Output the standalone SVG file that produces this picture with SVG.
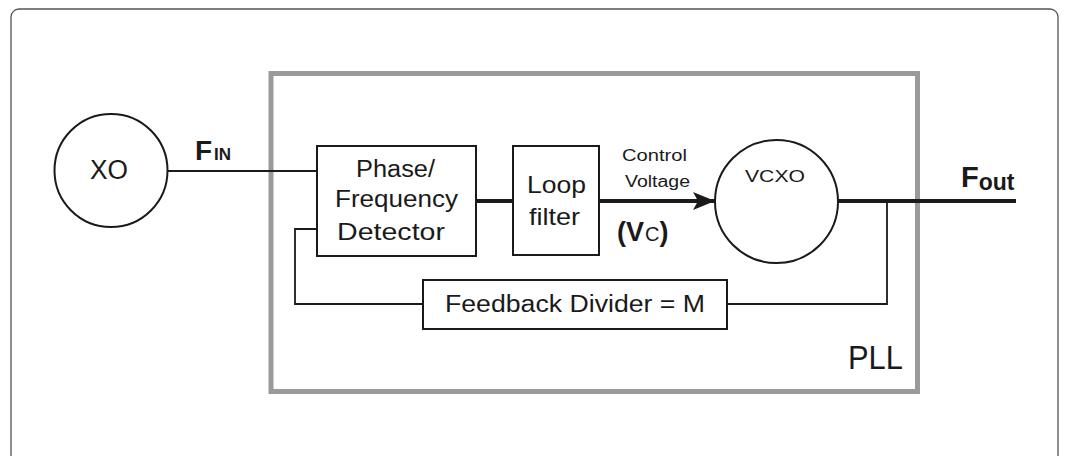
<svg xmlns="http://www.w3.org/2000/svg" width="1067" height="456" viewBox="0 0 1067 456">
<style>
.t{font-family:"Liberation Sans",Arial,sans-serif;fill:#1a1a1a}
.b{font-weight:bold}
.box{fill:#fff;stroke:#1a1a1a;stroke-width:2}
.w{fill:none;stroke:#1a1a1a;stroke-width:1.8}
.thick{fill:none;stroke:#1a1a1a;stroke-width:4}
</style>
<defs>
<marker id="arr" markerUnits="userSpaceOnUse" markerWidth="24" markerHeight="20" refX="22" refY="9" orient="auto">
<path d="M0,0 L22,9 L0,18 L5,9 Z" fill="#1a1a1a"/>
</marker>
</defs>
<rect x="0" y="0" width="1067" height="456" fill="#fff"/>
<rect x="11" y="9" width="1047" height="480" rx="8" fill="#fff" stroke="#555" stroke-width="1.3"/>
<g id="pll">
<rect x="271" y="73.5" width="646.5" height="318" fill="none" stroke="#9a9a9a" stroke-width="5"/>
<text class="t" x="848" y="369" font-size="33" textLength="55" lengthAdjust="spacingAndGlyphs">PLL</text>
</g>
<g id="connectors">
<line class="w" x1="167.5" y1="171" x2="317" y2="171"/>
<line class="thick" x1="476" y1="201" x2="513" y2="201"/>
<line class="thick" x1="599" y1="201" x2="715" y2="201" marker-end="url(#arr)"/>
<line class="thick" x1="838" y1="201" x2="1016" y2="201"/>
<polyline class="w" points="887,201 887,304 727,304"/>
<polyline class="w" points="423,304 295,304 295,229 317,229"/>
</g>
<g id="xo">
<circle cx="111" cy="170.5" r="56.5" fill="#fff" stroke="#1a1a1a" stroke-width="2"/>
<text class="t" x="90" y="179" font-size="27" textLength="38" lengthAdjust="spacingAndGlyphs">XO</text>
</g>
<g id="fin">
<text class="t b" x="195" y="160" font-size="28">F<tspan font-size="17" dx="2">IN</tspan></text>
</g>
<g id="pfd">
<rect class="box" x="317" y="146" width="159" height="110"/>
<text class="t" x="356" y="177" font-size="23" textLength="79" lengthAdjust="spacingAndGlyphs">Phase/</text>
<text class="t" x="335" y="207" font-size="23" textLength="123" lengthAdjust="spacingAndGlyphs">Frequency</text>
<text class="t" x="337" y="240" font-size="23" textLength="108" lengthAdjust="spacingAndGlyphs">Detector</text>
</g>
<g id="loop">
<rect class="box" x="513" y="146" width="86" height="109"/>
<text class="t" x="527" y="193" font-size="24" textLength="59" lengthAdjust="spacingAndGlyphs">Loop</text>
<text class="t" x="529" y="225" font-size="24" textLength="51" lengthAdjust="spacingAndGlyphs">filter</text>
</g>
<g id="vc-label">
<text class="t" x="622" y="161" font-size="16" textLength="65" lengthAdjust="spacingAndGlyphs">Control</text>
<text class="t" x="625" y="187" font-size="16" textLength="65" lengthAdjust="spacingAndGlyphs">Voltage</text>
<text class="t b" x="617" y="241" font-size="27">(V<tspan font-size="20" font-weight="normal" dx="1">C</tspan>)</text>
</g>
<g id="vcxo">
<circle cx="776.5" cy="201.5" r="61.5" fill="#fff" stroke="#1a1a1a" stroke-width="2"/>
<text class="t" x="745" y="182" font-size="16" textLength="60" lengthAdjust="spacingAndGlyphs">VCXO</text>
</g>
<g id="fout">
<text class="t b" x="961" y="187" font-size="29">F<tspan font-size="23" dy="3">out</tspan></text>
</g>
<g id="feedback">
<rect class="box" x="423" y="280" width="304" height="49"/>
<text class="t" x="445" y="312" font-size="23" textLength="260" lengthAdjust="spacingAndGlyphs">Feedback Divider = M</text>
</g>
</svg>
